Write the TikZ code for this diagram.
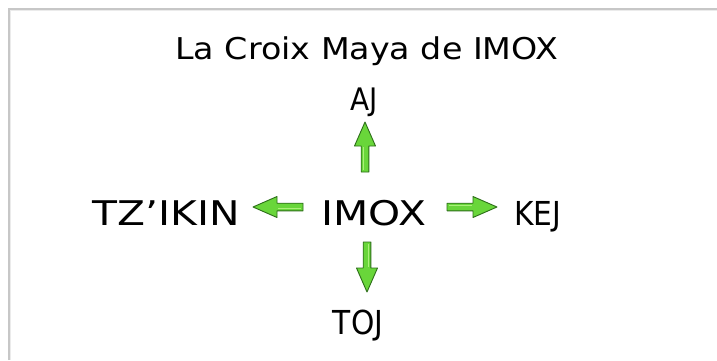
\documentclass[tikz,border=0pt]{standalone}
\usepackage{fontspec}
\setmainfont{DejaVu Sans}
\newfontfamily\titlefont[FakeStretch=1.11]{DejaVu Sans}
\newfontfamily\widefont[FakeStretch=1.2]{DejaVu Sans}
\newfontfamily\narrowfont[FakeStretch=0.9]{DejaVu Sans}
\definecolor{arrowfill}{RGB}{105,214,58}
\definecolor{arrowline}{RGB}{45,110,25}
\definecolor{arrowhi}{RGB}{170,240,120}
\begin{document}
\begin{tikzpicture}[x=1pt,y=1pt,
  lbl/.style={inner sep=0pt,anchor=base,font=\widefont\fontsize{34}{40}\selectfont},
  jlbl/.style={inner sep=0pt,anchor=base,font=\narrowfont\fontsize{33}{40}\selectfont},
  garrow/.pic={
    \filldraw[draw=arrowline,fill=arrowfill,line width=0.9pt,line join=round]
      (0,-3.8) -- (26,-3.8) -- (26,-10.5) -- (50,0) -- (26,10.5) -- (26,3.8) -- (0,3.8) -- cycle;
    \draw[arrowhi,line width=1.2pt] (2,1.2) -- (25,1.2);
  }]
\useasboundingbox (0,0) rectangle (717,360);
\fill[white] (0,0) rectangle (717,360);
\draw[black!22,line width=2pt] (8.5,0) -- (8.5,351.5) -- (717,351.5);
\draw[black!8,line width=1pt] (10.5,0) -- (10.5,349.5) -- (717,349.5);
\node[lbl,font=\titlefont\fontsize{30}{36}\selectfont] (title) at (367,301) {La Croix Maya de IMOX};
\node[jlbl,font=\narrowfont\fontsize{31}{36}\selectfont] (aj) at (364,250) {AJ};
\node[lbl] (imox) at (374,135) {IMOX};
\node[lbl] (tzikin) at (166,135) {TZ’IKIN};
\node[jlbl] (kej) at (538,135) {KEJ};
\node[jlbl] (toj) at (358,26) {TOJ};
\pic at (365,188) [rotate=90] {garrow};
\pic at (303,153) [rotate=180] {garrow};
\pic at (447,153) {garrow};
\pic at (367,118) [rotate=-90] {garrow};
\end{tikzpicture}
\end{document}
